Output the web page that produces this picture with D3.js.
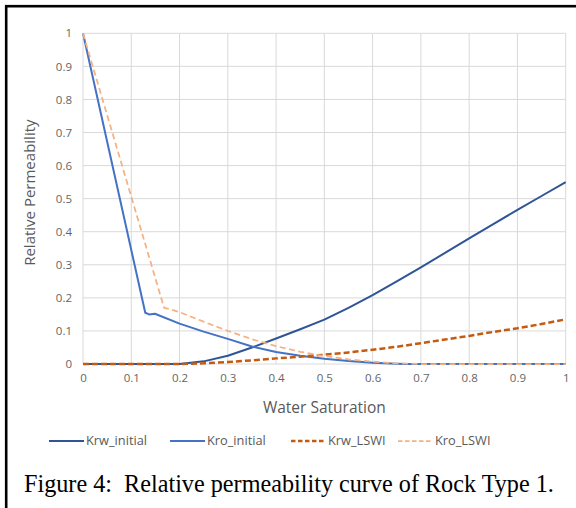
<!DOCTYPE html>
<html>
<head>
<meta charset="utf-8">
<script src="https://cdn.jsdelivr.net/npm/d3@7"></script>
<style>
  body { margin: 0; background: #fff; }
  svg { display: block; }
</style>
</head>
<body>
<script>
// relative permeability curves (Sw, kr)
var krwInitial = [[0,0],[0.2,0],[0.25,0.008],[0.3,0.025],[0.35,0.05],[0.4,0.077],[0.45,0.105],
  [0.5,0.134],[0.55,0.17],[0.6,0.208],[0.65,0.25],[0.7,0.292],[0.75,0.336],[0.8,0.38],
  [0.85,0.423],[0.9,0.466],[0.95,0.508],[1,0.55]];
var kroInitial = [[0,1],[0.129,0.155],[0.137,0.15],[0.149,0.152],[0.2,0.122],[0.25,0.098],
  [0.3,0.076],[0.35,0.053],[0.4,0.036],[0.45,0.025],[0.5,0.016],[0.55,0.009],[0.6,0.004],
  [0.65,0.001],[0.67,0],[0.8,0],[0.9,0],[1,0]];
var krwLSWI = [[0,0],[0.2,0],[0.25,0.002],[0.3,0.006],[0.35,0.011],[0.4,0.017],[0.45,0.022],
  [0.5,0.028],[0.55,0.035],[0.6,0.043],[0.65,0.052],[0.7,0.063],[0.75,0.074],[0.8,0.085],
  [0.85,0.097],[0.9,0.108],[0.95,0.121],[1,0.135]];
var kroLSWI = [[0,1],[0.168,0.17],[0.182,0.165],[0.2,0.157],[0.25,0.128],[0.3,0.1],[0.35,0.075],
  [0.4,0.054],[0.45,0.037],[0.5,0.024],[0.55,0.014],[0.6,0.007],[0.65,0.002],[0.7,0],
  [0.8,0],[0.9,0],[1,0]];

var seriesNames = ["Krw_initial", "Kro_initial", "Krw_LSWI", "Kro_LSWI"];
var tickValues = [0,0.1,0.2,0.3,0.4,0.5,0.6,0.7,0.8,0.9,1];

var series = [
  {name: seriesNames[0], data: krwInitial, color: "#2f5597", width: 2, dash: null},
  {name: seriesNames[1], data: kroInitial, color: "#4472c4", width: 2, dash: null},
  {name: seriesNames[2], data: krwLSWI, color: "#c55a11", width: 2.5, dash: "6,3"},
  {name: seriesNames[3], data: kroLSWI, color: "#f4b183", width: 1.75, dash: "6,3.5"}
];

var W = 576, H = 508;
var svg = d3.select("body").append("svg")
  .attr("width", W)
  .attr("height", H);

// black frame, cut off at right/bottom like the scan
svg.append("rect")
  .attr("x", 6.2).attr("y", 6.2)
  .attr("width", W + 20).attr("height", H + 20)
  .attr("fill", "none")
  .attr("stroke", "#000")
  .attr("stroke-width", 2.6);

var x = d3.scaleLinear().domain([0, 1]).range([83, 565.7]);
var y = d3.scaleLinear().domain([0, 1]).range([364, 33.3]);

var font = "'Open Sans', 'Segoe UI', sans-serif";

// grid
svg.append("g").selectAll("line.v")
  .data(tickValues).enter().append("line")
  .attr("x1", function(d) { return x(d); })
  .attr("x2", function(d) { return x(d); })
  .attr("y1", y(0)).attr("y2", y(1))
  .attr("stroke", "#d9d9d9").attr("stroke-width", 1);
svg.append("g").selectAll("line.h")
  .data(tickValues).enter().append("line")
  .attr("x1", x(0)).attr("x2", x(1))
  .attr("y1", function(d) { return y(d); })
  .attr("y2", function(d) { return y(d); })
  .attr("stroke", "#d9d9d9").attr("stroke-width", 1);

// axes (labels only, Excel style)
var xAxis = svg.append("g")
  .attr("transform", "translate(0," + y(0) + ")")
  .call(d3.axisBottom(x).tickValues(tickValues).tickSize(0).tickPadding(10)
    .tickFormat(d3.format("~g")));
var yAxis = svg.append("g")
  .attr("transform", "translate(" + x(0) + ",0)")
  .call(d3.axisLeft(y).tickValues(tickValues).tickSize(0).tickPadding(11)
    .tickFormat(d3.format("~g")));
[xAxis, yAxis].forEach(function(g) {
  g.select(".domain").remove();
  g.selectAll("text")
    .attr("fill", "#656565")
    .style("font-family", font)
    .style("font-size", "11.5px");
});

// lines
var line = d3.line()
  .x(function(d) { return x(d[0]); })
  .y(function(d) { return y(d[1]); });

svg.append("g").selectAll("path")
  .data(series).enter().append("path")
  .attr("d", function(d) { return line(d.data); })
  .attr("fill", "none")
  .attr("stroke", function(d) { return d.color; })
  .attr("stroke-width", function(d) { return d.width; })
  .attr("stroke-dasharray", function(d) { return d.dash; })
  .attr("stroke-linejoin", "round");

// axis titles
svg.append("text")
  .attr("x", (x(0) + x(1)) / 2)
  .attr("y", 413)
  .attr("text-anchor", "middle")
  .attr("fill", "#595959")
  .style("font-family", font)
  .style("font-size", "15.5px")
  .text("Water Saturation");

svg.append("text")
  .attr("transform", "translate(35," + ((y(0) + y(1)) / 2 - 6) + ") rotate(-90)")
  .attr("text-anchor", "middle")
  .attr("fill", "#595959")
  .style("font-family", font)
  .style("font-size", "15px")
  .text("Relative Permeability");

// legend
var legendX = [49, 170, 291, 398];
var legend = svg.append("g").selectAll("g")
  .data(series).enter().append("g")
  .attr("transform", function(d, i) { return "translate(" + legendX[i] + ",441)"; });
legend.append("line")
  .attr("x1", 0).attr("x2", 35)
  .attr("stroke", function(d) { return d.color; })
  .attr("stroke-width", function(d) { return d.width; })
  .attr("stroke-dasharray", function(d) { return d.dash ? "4.5,2.5" : null; });
legend.append("text")
  .attr("x", 37)
  .attr("dy", "0.35em")
  .attr("fill", "#595959")
  .style("font-family", font)
  .style("font-size", "12.8px")
  .text(function(d) { return d.name; });

// caption
svg.append("text")
  .attr("x", 24)
  .attr("y", 492)
  .attr("fill", "#000")
  .style("font-family", "'Liberation Serif', 'Times New Roman', serif")
  .style("font-size", "24.2px")
  .style("white-space", "pre")
  .text("Figure 4:  Relative permeability curve of Rock Type 1.");
</script>
</body>
</html>
